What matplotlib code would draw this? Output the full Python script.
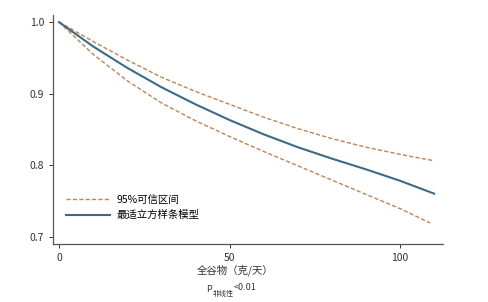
import matplotlib
matplotlib.use('Agg')
import matplotlib.pyplot as plt
import numpy as np

plt.rcParams['font.family'] = ['Noto Sans CJK SC', 'DejaVu Sans']

# Values
grain = [0, 10, 20, 30, 40, 50, 60, 70, 80, 90, 100, 110]
hr_fit = [1.0, 0.966, 0.936, 0.909, 0.885, 0.863, 0.843, 0.825, 0.809, 0.794, 0.778, 0.760]
ci_upper = [1.0, 0.973, 0.947, 0.923, 0.903, 0.885, 0.867, 0.851, 0.837, 0.825, 0.815, 0.806]
ci_lower = [1.0, 0.955, 0.918, 0.887, 0.862, 0.840, 0.819, 0.799, 0.779, 0.759, 0.739, 0.719]
lower_x = [0, 10, 20, 30, 40, 50, 60, 70, 80, 90, 100, 108.8]

xticks = [0, 50, 100]
yticks = [0.7, 0.8, 0.9, 1.0]

fig = plt.figure(figsize=(4.88, 3.02), dpi=100)
ax = fig.add_axes([0.1086, 0.192, 0.7992, 0.758])

dash_c = '#c08352'
fit_c = '#3d6a88'
ax.plot(grain, ci_upper, color=dash_c, lw=1.0, ls=(0, (3, 1.6)), label='95%可信区间')
ax.plot(lower_x, ci_lower, color=dash_c, lw=1.0, ls=(0, (3, 1.6)))
ax.plot(grain, hr_fit, color=fit_c, lw=1.5, label='最适立方样条模型')

ax.set_xlim(-1.76, 112.6)
ax.set_ylim(0.6895, 1.0098)
ax.set_xticks(xticks)
ax.set_yticks(yticks)
ax.set_yticklabels([f'{v:.1f}' for v in yticks])
for s in ['top', 'right']:
    ax.spines[s].set_visible(False)
for s in ['left', 'bottom']:
    ax.spines[s].set_color('#555555')
    ax.spines[s].set_linewidth(0.9)
ax.tick_params(axis='both', labelsize=7.5, colors='#333333', length=3, width=0.7)

leg = ax.legend(loc='lower left', bbox_to_anchor=(0.01, 0.063), frameon=False,
                fontsize=7.5, handlelength=4.2, handletextpad=0.6, labelspacing=0.5)

fig.text(235 / 488, 1 - 270 / 302, '全谷物（克/天）', ha='center', va='center',
         fontsize=7.5, color='#333333')
fig.text(206 / 488, 1 - 289 / 302, 'P', ha='left', va='center', fontsize=6.5, color='#333333')
fig.text(213 / 488, 1 - 294 / 302, '非线性', ha='left', va='center', fontsize=5, color='#333333')
fig.text(234 / 488, 1 - 288 / 302, '<0.01', ha='left', va='center', fontsize=6.5, color='#333333')

fig.savefig('out.png', dpi=100)
